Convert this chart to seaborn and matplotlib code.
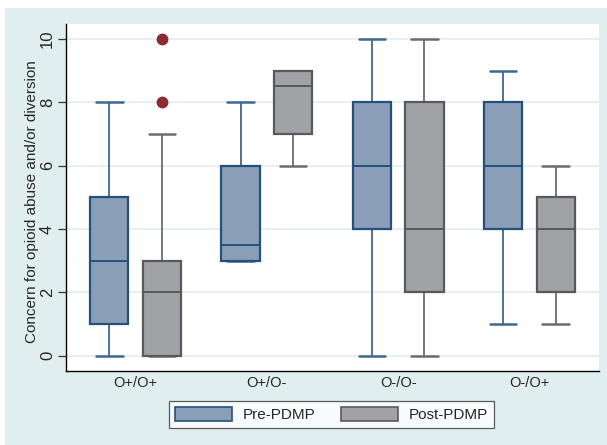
import numpy as np
import pandas as pd
import seaborn as sns
import matplotlib.pyplot as plt
from matplotlib.patches import Rectangle, Patch

# groups (x categories) and periods (hue)
groups = ["O+/O+", "O+/O-", "O-/O-", "O-/O+"]
periods = ["Pre-PDMP", "Post-PDMP"]

# responses, chosen so the quartiles match the boxes
pre_opos_opos = [0, 1, 3, 5, 8]
post_opos_opos = [0, 0, 0, 0, 1, 2, 2, 2, 3, 3, 7, 8, 10]
pre_opos_oneg = [3, 3, 3.5, 6, 8]
post_opos_oneg = [6, 7, 8.5, 9, 9]
pre_oneg_oneg = [0, 4, 6, 8, 10]
post_oneg_oneg = [0, 2, 4, 8, 10]
pre_oneg_opos = [1, 4, 6, 8, 9]
post_oneg_opos = [1, 2, 4, 5, 6]

samples = {
    ("O+/O+", "Pre-PDMP"): pre_opos_opos,
    ("O+/O+", "Post-PDMP"): post_opos_opos,
    ("O+/O-", "Pre-PDMP"): pre_opos_oneg,
    ("O+/O-", "Post-PDMP"): post_opos_oneg,
    ("O-/O-", "Pre-PDMP"): pre_oneg_oneg,
    ("O-/O-", "Post-PDMP"): post_oneg_oneg,
    ("O-/O+", "Pre-PDMP"): pre_oneg_opos,
    ("O-/O+", "Post-PDMP"): post_oneg_opos,
}

rows = []
for (g, p), vals in samples.items():
    for v in vals:
        rows.append({"group": g, "period": p, "concern": v})
df = pd.DataFrame(rows)

sns.set_style("white")
plt.rcParams['font.family'] = ['Liberation Sans', 'DejaVu Sans']

bg = "#e1eef0"
fill = {"Pre-PDMP": "#8a9fb7", "Post-PDMP": "#a0a2a6"}
edge = {"Pre-PDMP": "#24507c", "Post-PDMP": "#58595c"}
whisk = {"Pre-PDMP": "#3f6890", "Post-PDMP": "#6b6c6f"}

fig = plt.figure(figsize=(6.07, 4.45), dpi=100, facecolor="white")
fig.patches.append(Rectangle((5 / 607, 0), 1, 437 / 445, transform=fig.transFigure,
                             facecolor=bg, edgecolor="none", zorder=-10))
ax = fig.add_axes([66 / 607, 1 - 370.5 / 445, (599 - 66) / 607, (370.5 - 24) / 445])
ax.set_facecolor("white")

sns.boxplot(data=df, x="group", y="concern", hue="period", order=groups,
            hue_order=periods, width=0.8, gap=0.27, whis=1.5, ax=ax,
            linewidth=1.6, fliersize=7.5,
            flierprops=dict(marker="o", markerfacecolor="#8c2a36",
                            markeredgecolor="#8c2a36"))

# recolour each box by period
for p, cont in zip(periods, ax.containers):
    for b in cont:
        b.box.set_facecolor(fill[p])
        b.box.set_edgecolor(edge[p])
        b.box.set_linewidth(1.6)
        b.box.set_zorder(3)
        b.median.set_color(edge[p])
        b.median.set_linewidth(1.4)
        b.median.set_zorder(4)
        verts = b.box.get_path().vertices
        x0, x1 = verts[:, 0].min(), verts[:, 0].max()
        xc, half = (x0 + x1) / 2, (x1 - x0) / 2
        for w in b.whiskers:
            w.set_color(whisk[p])
            w.set_linewidth(1.3)
            w.set_zorder(2)
        for c in b.caps:
            c.set_color(whisk[p])
            c.set_linewidth(1.8)
            c.set_zorder(2)
            c.set_xdata([xc - 0.69 * half, xc + 0.69 * half])

ax.set_ylim(-0.47, 10.47)
ax.set_xlim(-0.53, 3.53)
ax.set_yticks(range(0, 11, 2))
ax.grid(axis="y", color=bg, linewidth=1.2)
ax.set_axisbelow(True)
for s in ["top", "right"]:
    ax.spines[s].set_visible(False)
for s in ["left", "bottom"]:
    ax.spines[s].set_color("black")
    ax.spines[s].set_linewidth(1.0)
ax.tick_params(axis="y", labelrotation=90, length=6, width=0.9, left=True,
               labelsize=12, pad=2, color="#333333")
ax.tick_params(axis="x", length=0, labelsize=10.5, pad=4)
for t in ax.get_yticklabels():
    t.set_va("center")
ax.set_xlabel("")
ax.set_ylabel("Concern for opioid abuse and/or diversion", fontsize=11)
ax.yaxis.label.set_va("center")
ax.yaxis.set_label_coords((32 - 66) / 533, 1 - (201.5 - 24) / 346.5)

ax.get_legend().remove()
handles = [Patch(facecolor=fill[p], edgecolor=edge[p], linewidth=1.2) for p in periods]
leg = fig.legend(handles, periods, loc="center", bbox_to_anchor=(331.5 / 607, 1 - 414.5 / 445),
                 ncol=2, frameon=True, fancybox=False, fontsize=11,
                 handlelength=3.7, handleheight=1.05, columnspacing=1.7,
                 borderpad=0.4, handletextpad=0.72, borderaxespad=0)
leg.get_frame().set_edgecolor("#333333")
leg.get_frame().set_linewidth(0.9)

fig.savefig("out.png", dpi=100, facecolor=fig.get_facecolor())
